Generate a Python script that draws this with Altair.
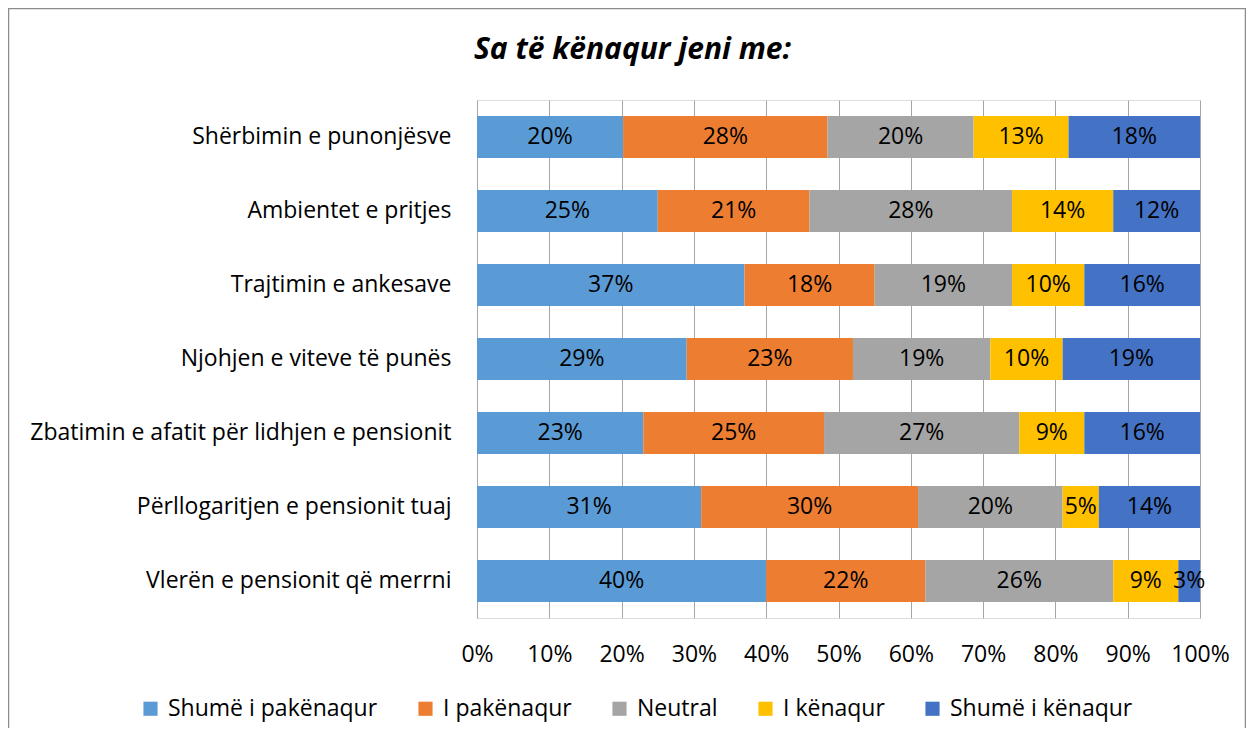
import altair as alt
import pandas as pd

categories = [
    "Shërbimin e punonjësve\u00a0",
    "Ambientet e pritjes",
    "Trajtimin e ankesave",
    "Njohjen e viteve të punës",
    "Zbatimin e afatit për lidhjen e pensionit",
    "Përllogaritjen e pensionit tuaj",
    "Vlerën e pensionit që merrni",
]
series = ["Shumë i pakënaqur", "I pakënaqur", "Neutral", "I kënaqur", "Shumë i kënaqur"]
colors = ["#5B9BD5", "#ED7D31", "#A5A5A5", "#FFC000", "#4472C4"]

shume_pakenaqur = [20, 25, 37, 29, 23, 31, 40]
pakenaqur = [28, 21, 18, 23, 25, 30, 22]
neutral = [20, 28, 19, 19, 27, 20, 26]
kenaqur = [13, 14, 10, 10, 9, 5, 9]
shume_kenaqur = [18, 12, 16, 19, 16, 14, 3]

all_values = [shume_pakenaqur, pakenaqur, neutral, kenaqur, shume_kenaqur]
rows = []
for si, (s, vals) in enumerate(zip(series, all_values)):
    for c, v in zip(categories, vals):
        rows.append({"cat": c, "series": s, "order": si, "value": v})
df = pd.DataFrame(rows)

FONT = "Open Sans"
FS = 23

base = alt.Chart(df)

bars = base.mark_bar(size=42).encode(
    y=alt.Y("cat:N", sort=categories, title=None,
            scale=alt.Scale(paddingInner=0.43, paddingOuter=0.215),
            axis=alt.Axis(domain=False, ticks=False, labelPadding=26, labelFontSize=FS,
                          labelColor="#000000", labelFont=FONT, labelLimit=0)),
    x=alt.X("value:Q", stack="normalize", title=None,
            scale=alt.Scale(domain=[0, 1], nice=False),
            axis=alt.Axis(format="%", values=[i / 10 for i in range(11)], domain=False, ticks=False,
                          labelPadding=25, labelFontSize=FS, labelColor="#000000", labelFont=FONT,
                          labelOverlap=False, labelFlush=False,
                          grid=True, gridColor="#A6A6A6", gridWidth=1)),
    color=alt.Color("series:N", sort=series, scale=alt.Scale(domain=series, range=colors),
                    legend=alt.Legend(title=None, orient="none", direction="horizontal",
                                      legendX=-338, legendY=597, symbolType="square", symbolSize=200,
                                      symbolStrokeWidth=0, labelFontSize=FS, labelFont=FONT,
                                      labelColor="#000000", columnPadding=36, labelOffset=6,
                                      labelLimit=0)),
    order=alt.Order("order:Q"),
)

labels = base.transform_joinaggregate(
    total="sum(value)", groupby=["cat"]
).transform_window(
    cum="sum(value)", groupby=["cat"], sort=[alt.SortField("order")], frame=[None, 0]
).transform_calculate(
    mid="(datum.cum - datum.value / 2) / datum.total",
    lab="datum.value + '%'",
).mark_text(fontSize=FS, font=FONT, color="#000000", baseline="middle", align="center").encode(
    y=alt.Y("cat:N", sort=categories),
    x=alt.X("mid:Q"),
    text="lab:N",
)

frame = alt.Chart(pd.DataFrame({"a": [0]})).mark_rect(fill=None, stroke="#8C8C8C", strokeWidth=1.5).encode(
    x=alt.value(-468.5), x2=alt.value(768.5), y=alt.value(-91.5), y2=alt.value(700)
)

chart = alt.layer(frame, bars, labels).properties(
    width=723,
    height=518,
    title=alt.TitleParams("Sa të kënaqur jeni me:", fontSize=30, fontWeight="bold", fontStyle="italic",
                          font=FONT, anchor="middle", frame="group", dx=-206, offset=-57,
                          color="#000000"),
    autosize=alt.AutoSizeParams(type="none"),
    padding={"left": 469, "top": 92, "right": 46, "bottom": 110},
).configure_view(stroke=None).configure(background="#FFFFFF")

chart.save("out.html", embed_options={"renderer": "svg", "actions": False})
